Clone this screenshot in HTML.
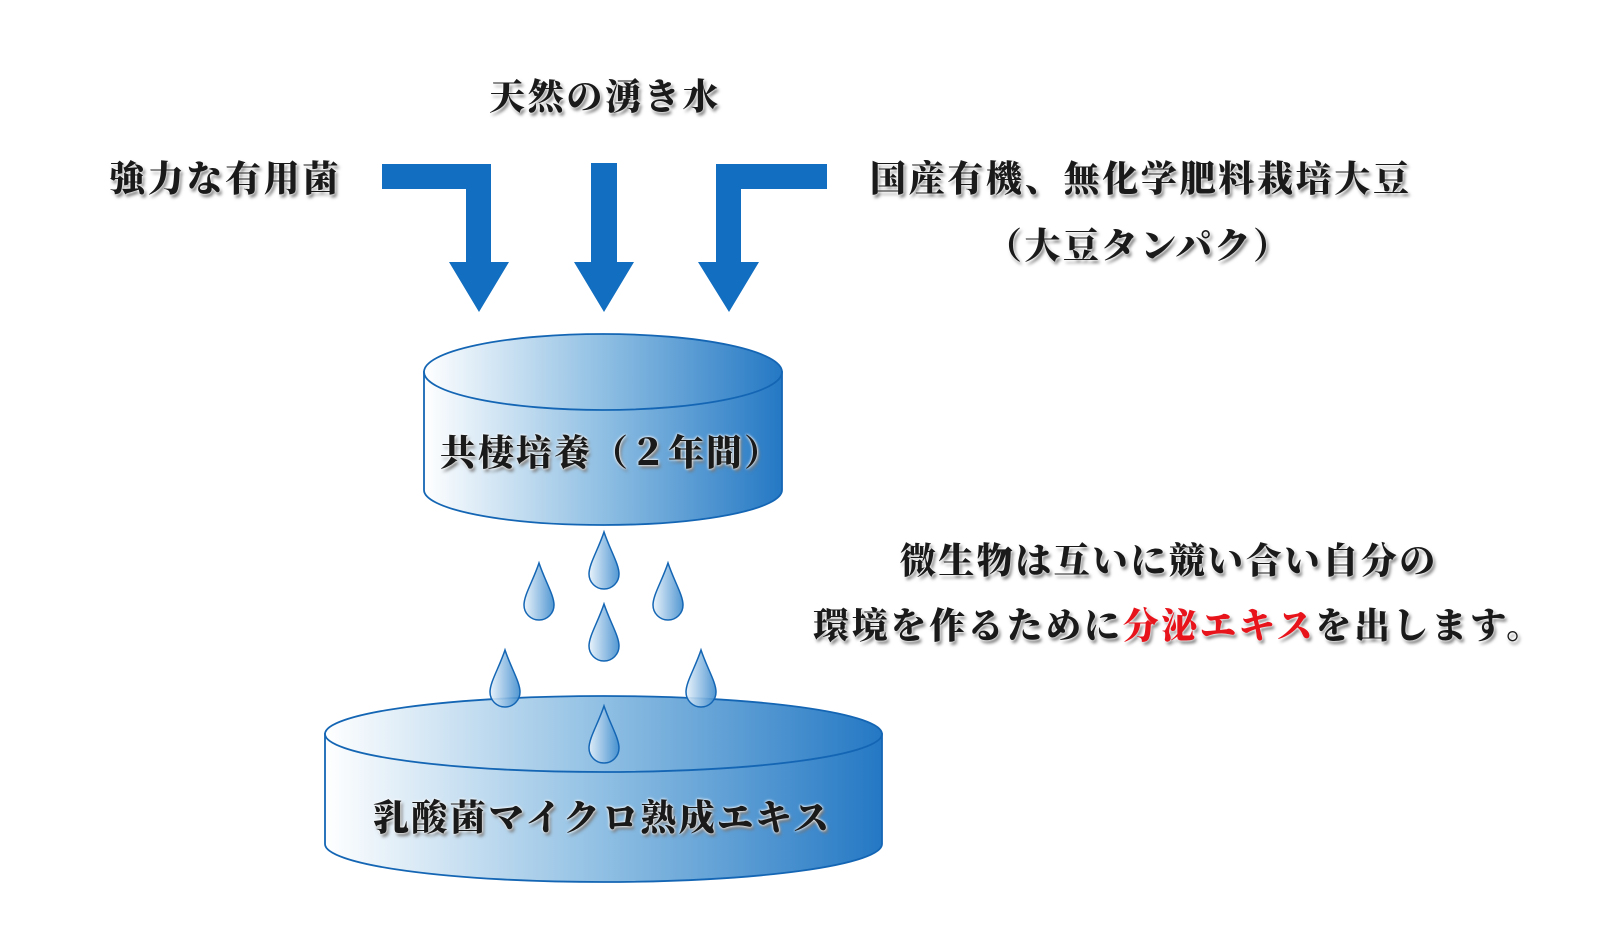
<!DOCTYPE html>
<html><head><meta charset="utf-8"><style>
html,body{margin:0;padding:0;background:#fff;}
#c{position:relative;width:1604px;height:946px;overflow:hidden;}
svg{position:absolute;left:0;top:0;}
.t{position:absolute;white-space:nowrap;font-family:"Liberation Serif","Noto Serif CJK SC",serif;font-weight:900;font-size:36px;line-height:40px;color:#1a1a1a;text-shadow:0 0 2px #fff,0 0 3px #fff,2px 3px 3px #777;}
</style></head><body><div id="c">
<svg width="1604" height="946" viewBox="0 0 1604 946">
<defs>
<linearGradient id="g" x1="0" x2="1" y1="0" y2="0">
<stop offset="0" stop-color="#ffffff"/><stop offset="0.5" stop-color="#8fbfe3"/><stop offset="1" stop-color="#2478c4"/>
</linearGradient>
<linearGradient id="d" x1="0" x2="1" y1="0" y2="0">
<stop offset="0" stop-color="#e6f1fa"/><stop offset="1" stop-color="#3f8ccd"/>
</linearGradient>
</defs>
<g fill="#126ec0">
<polygon points="382,164 491,164 491,262 509,262 479,312 449,262 466,262 466,189 382,189"/>
<polygon points="591,163 617,163 617,262 634,262 604,312 574,262 591,262"/>
<polygon points="827,164 716,164 716,262 698,262 729,312 759,262 741,262 741,189 827,189"/>
</g>
<g stroke="#1466b4" stroke-width="1.8">
<path d="M424,372 L424,490 A179,35 0 0 0 782,490 L782,372 Z" fill="url(#g)"/>
<ellipse cx="603" cy="372" rx="179" ry="38" fill="url(#g)"/>
<path d="M325,734 L325,844 A278.5,38 0 0 0 882,844 L882,734 Z" fill="url(#g)"/>
<ellipse cx="603.5" cy="734" rx="278.5" ry="38" fill="url(#g)"/>
</g>
<g stroke="#1466b4" stroke-width="1.5" fill="url(#d)" fill-opacity="0.9">
<path d="M604,532 C610,550 619,564 619,574 A15,15 0 0 1 589,574 C589,564 598,550 604,532 Z"/>
<path d="M539,563 C545,581 554,595 554,605 A15,15 0 0 1 524,605 C524,595 533,581 539,563 Z"/>
<path d="M668,563 C674,581 683,595 683,605 A15,15 0 0 1 653,605 C653,595 662,581 668,563 Z"/>
<path d="M604,604 C610,622 619,636 619,646 A15,15 0 0 1 589,646 C589,636 598,622 604,604 Z"/>
<path d="M505,650 C511,668 520,682 520,692 A15,15 0 0 1 490,692 C490,682 499,668 505,650 Z"/>
<path d="M701,650 C707,668 716,682 716,692 A15,15 0 0 1 686,692 C686,682 695,668 701,650 Z"/>
<path d="M604,706 C610,724 619,738 619,748 A15,15 0 0 1 589,748 C589,738 598,724 604,706 Z"/>
</g>
</svg>
<div class="t" style="left:489px;top:77px;letter-spacing:2.7px">天然の湧き水</div>
<div class="t" style="left:109px;top:159px;letter-spacing:2.7px">強力な有用菌</div>
<div class="t" style="left:870px;top:159px;letter-spacing:2.7px">国産有機、無化学肥料栽培大豆</div>
<div class="t" style="left:986px;top:226px;letter-spacing:2.5px">（大豆タンパク）</div>
<div class="t" style="left:440px;top:433px;letter-spacing:2px">共棲培養（２年間）</div>
<div class="t" style="left:900px;top:541px;letter-spacing:2.4px">微生物は互いに競い合い自分の</div>
<div class="t" style="left:813px;top:606px;letter-spacing:2.7px">環境を作るために<span style="color:#e8141c">分泌エキス</span>を出します。</div>
<div class="t" style="left:373px;top:798px;letter-spacing:2.4px">乳酸菌マイクロ熟成エキス</div>
</div></body></html>
